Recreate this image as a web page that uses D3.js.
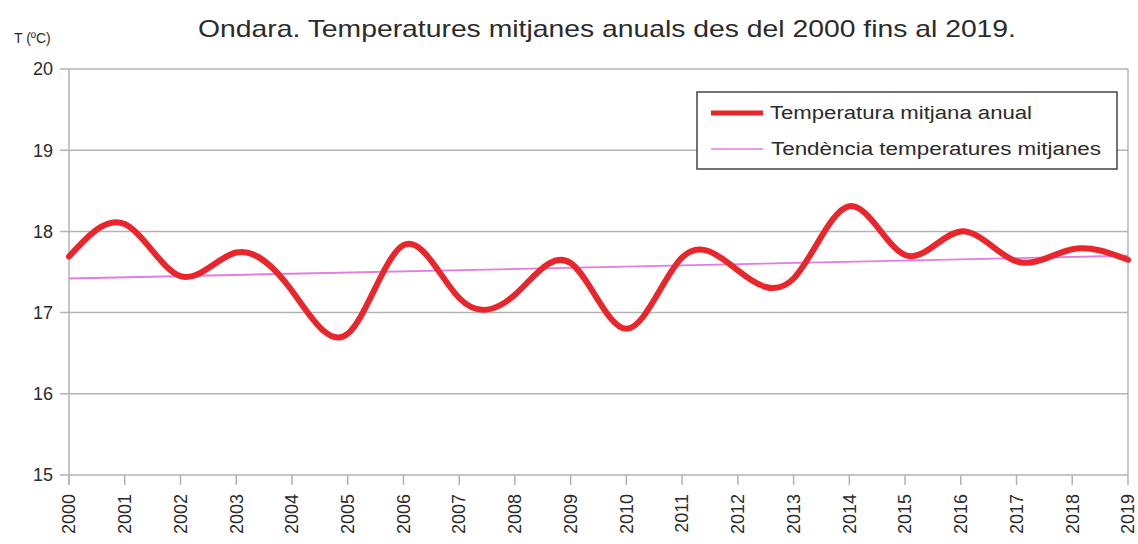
<!DOCTYPE html>
<html>
<head>
<meta charset="utf-8">
<script src="https://cdn.jsdelivr.net/npm/d3@7"></script>
<style>
  body { margin: 0; background: #fff; }
  text { font-family: "Liberation Sans", Arial, sans-serif; fill: #2b2b2b; }
</style>
</head>
<body>
<div id="chart"></div>
<script>
// data
var years = ["2000","2001","2002","2003","2004","2005","2006","2007","2008","2009",
             "2010","2011","2012","2013","2014","2015","2016","2017","2018","2019"];
var tempMean = [17.69, 18.09, 17.45, 17.74, 17.27, 16.74, 17.83, 17.18, 17.22, 17.61,
                16.80, 17.68, 17.52, 17.42, 18.31, 17.71, 18.00, 17.63, 17.78, 17.65];
var trendYears = ["2000", "2019"];
var trendValues = [17.42, 17.70];
var yTicks = [15, 16, 17, 18, 19, 20];

var titleText = "Ondara. Temperatures mitjanes anuals des del 2000 fins al 2019.";
var legendLabels = ["Temperatura mitjana anual", "Tendència temperatures mitjanes"];

var svgWidth = 1138;
var svgHeight = 544;

var margin = { top: 69, bottom: 69, left: 69, right: 10 };
var width = 1128 - margin.left;
var height = 475 - margin.top;

var svg = d3.select("#chart")
    .append("svg")
    .attr("width", svgWidth)
    .attr("height", svgHeight);

var xScale = d3.scalePoint().domain(years).range([0, width]);
var yScale = d3.scaleLinear().domain([15, 20]).range([height, 0]);

var chartGroup = svg.append("g")
    .attr("transform", `translate(${margin.left}, ${margin.top})`);

// horizontal grid
chartGroup.append("g")
    .selectAll("line")
    .data(yTicks)
    .enter()
    .append("line")
    .attr("x1", -9)
    .attr("x2", width)
    .attr("y1", d => yScale(d))
    .attr("y2", d => yScale(d))
    .attr("stroke", "#b3b3b3")
    .attr("stroke-width", 1.5);

// left axis line + right border
chartGroup.append("line")
    .attr("x1", 0).attr("x2", 0)
    .attr("y1", 0).attr("y2", height + 10)
    .attr("stroke", "#b3b3b3").attr("stroke-width", 1.5);
chartGroup.append("line")
    .attr("x1", width).attr("x2", width)
    .attr("y1", 0).attr("y2", height)
    .attr("stroke", "#b3b3b3").attr("stroke-width", 1.5);

// x ticks
chartGroup.append("g")
    .selectAll("line")
    .data(years)
    .enter()
    .append("line")
    .attr("x1", d => xScale(d))
    .attr("x2", d => xScale(d))
    .attr("y1", height)
    .attr("y2", height + 10)
    .attr("stroke", "#b3b3b3")
    .attr("stroke-width", 1.5);

// y tick labels
chartGroup.append("g")
    .selectAll("text")
    .data(yTicks)
    .enter()
    .append("text")
    .attr("x", -16)
    .attr("y", d => yScale(d))
    .attr("dy", "0.35em")
    .attr("text-anchor", "end")
    .style("font-size", "18px")
    .text(d => d);

// x tick labels, rotated
chartGroup.append("g")
    .selectAll("text")
    .data(years)
    .enter()
    .append("text")
    .attr("transform", d => `translate(${xScale(d)}, ${height + 19}) rotate(-90)`)
    .attr("dy", "0.35em")
    .attr("text-anchor", "end")
    .style("font-size", "18px")
    .text(d => d);

// trend line
var trendLine = d3.line()
    .x((d, i) => xScale(trendYears[i]))
    .y(d => yScale(d));

chartGroup.append("path")
    .datum(trendValues)
    .attr("d", trendLine)
    .attr("fill", "none")
    .attr("stroke", "#e27be2")
    .attr("stroke-width", 1.8);

// temperature curve (smoothed)
var tempLine = d3.line()
    .x((d, i) => xScale(years[i]))
    .y(d => yScale(d))
    .curve(d3.curveNatural);

chartGroup.append("path")
    .datum(tempMean)
    .attr("d", tempLine)
    .attr("fill", "none")
    .attr("stroke", "#e8262b")
    .attr("stroke-width", 6)
    .attr("stroke-linecap", "round");

// title + y unit
svg.append("text")
    .attr("x", 198)
    .attr("y", 37)
    .attr("textLength", 818)
    .attr("lengthAdjust", "spacingAndGlyphs")
    .style("font-size", "24px")
    .text(titleText);

svg.append("text")
    .attr("x", 14)
    .attr("y", 43)
    .style("font-size", "14px")
    .text("T (ºC)");

// legend
var legend = svg.append("g").attr("transform", "translate(697, 92)");
legend.append("rect")
    .attr("width", 420)
    .attr("height", 77)
    .attr("fill", "#fff")
    .attr("stroke", "#444")
    .attr("stroke-width", 1.5);

legend.append("line")
    .attr("x1", 14).attr("x2", 66)
    .attr("y1", 21).attr("y2", 21)
    .attr("stroke", "#e8262b").attr("stroke-width", 5);
legend.append("line")
    .attr("x1", 14).attr("x2", 66)
    .attr("y1", 57).attr("y2", 57)
    .attr("stroke", "#e27be2").attr("stroke-width", 1.5);

legend.append("text")
    .attr("x", 73).attr("y", 27)
    .attr("textLength", 262)
    .attr("lengthAdjust", "spacingAndGlyphs")
    .style("font-size", "18px")
    .text(legendLabels[0]);
legend.append("text")
    .attr("x", 74).attr("y", 63)
    .attr("textLength", 330)
    .attr("lengthAdjust", "spacingAndGlyphs")
    .style("font-size", "18px")
    .text(legendLabels[1]);
</script>
</body>
</html>
